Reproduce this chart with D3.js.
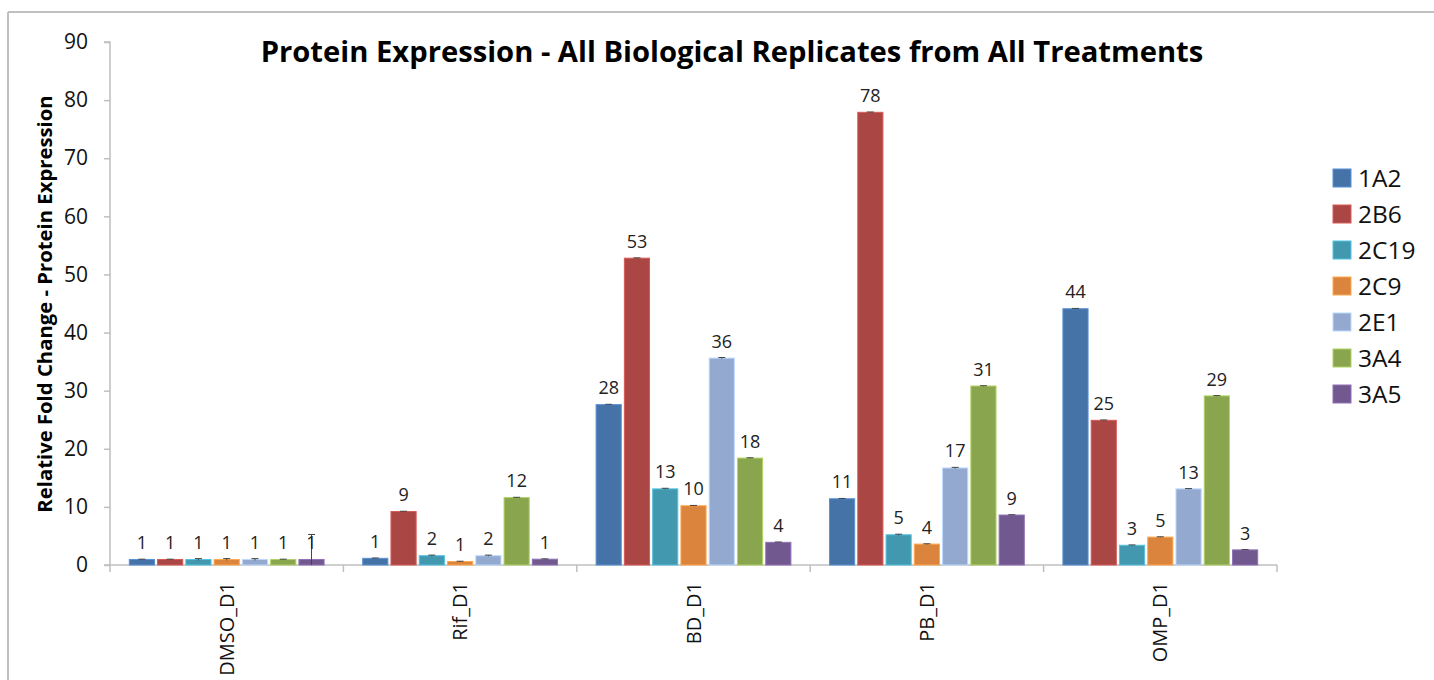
<!DOCTYPE html>
<html><head><meta charset="utf-8">
<script src="https://cdn.jsdelivr.net/npm/d3@7"></script>
<style>
html,body{margin:0;padding:0;background:#fff;}
svg{display:block;font-family:"Open Sans",sans-serif;}
</style></head>
<body><svg id="c" width="1434" height="680"></svg>
<script>
const categories = ["DMSO_D1","Rif_D1","BD_D1","PB_D1","OMP_D1"];
const seriesNames = ["1A2","2B6","2C19","2C9","2E1","3A4","3A5"];
const seriesColors = ["#4572A7","#AA4643","#4198AF","#DB843D","#93A9CF","#89A54E","#71588F"];
// values per series, in category order
const v1A2  = [0.95, 1.15, 27.6, 11.4, 44.1];
const v2B6  = [0.95, 9.2, 52.8, 77.9, 24.9];
const v2C19 = [0.95, 1.6, 13.1, 5.2, 3.4];
const v2C9  = [0.95, 0.6, 10.2, 3.6, 4.8];
const v2E1  = [0.95, 1.6, 35.6, 16.7, 13.1];
const v3A4  = [0.95, 11.6, 18.4, 30.8, 29.1];
const v3A5  = [0.95, 1.0, 3.9, 8.6, 2.6];
// error bar half-widths
const e1A2  = [0.05, 0.05, 0.05, 0.05, 0.05];
const e2B6  = [0.05, 0.05, 0.05, 0.05, 0.05];
const e2C19 = [0.15, 0.1, 0.1, 0.1, 0.05];
const e2C9  = [0.15, 0.05, 0.05, 0.05, 0.05];
const e2E1  = [0.15, 0.1, 0.1, 0.1, 0.05];
const e3A4  = [0.05, 0.05, 0.05, 0.05, 0.05];
const e3A5  = [4.3, 0.05, 0.05, 0.05, 0.05];
const yTicks = [0,10,20,30,40,50,60,70,80,90];
const titleText = "Protein Expression - All Biological Replicates from All Treatments";
const yLabel = "Relative Fold Change - Protein Expression";

const values = [v1A2,v2B6,v2C19,v2C9,v2E1,v3A4,v3A5];
const errors = [e1A2,e2B6,e2C19,e2C9,e2E1,e3A4,e3A5];

const svg = d3.select("#c");
const axisColor = "#bfbfbf";

// frame
svg.append("line").attr("x1",8).attr("x2",1434).attr("y1",12).attr("y2",12).attr("stroke","#c0c0c0").attr("stroke-width",2);
svg.append("line").attr("x1",8).attr("x2",8).attr("y1",12).attr("y2",680).attr("stroke","#c0c0c0").attr("stroke-width",2);

const y = d3.scaleLinear().domain([0,90]).range([565,42]);
const x = d3.scaleBand().domain(categories).range([110,1277]).paddingInner(0).paddingOuter(0);
const xi = d3.scaleBand().domain(seriesNames).range([19.3, x.bandwidth()-19.3]).paddingInner(0.11).paddingOuter(0);
const color = d3.scaleOrdinal().domain(seriesNames).range(seriesColors);

// title
svg.append("text").attr("x",732).attr("y",62).attr("text-anchor","middle")
  .attr("font-size",29.2).attr("font-weight","bold").attr("fill","#000").text(titleText);

// y axis
const yAxis = d3.axisLeft(y).tickValues(yTicks).tickSize(6).tickPadding(16).tickFormat(d3.format("d"));
const gy = svg.append("g").attr("transform","translate(110,0)").call(yAxis);
gy.select(".domain").attr("stroke",axisColor).attr("stroke-width",1.5).attr("d","M-6,"+y(90)+"H0V"+y(0)+"H-6");
gy.selectAll(".tick line").attr("stroke",axisColor).attr("stroke-width",1.5);
gy.selectAll(".tick text").attr("font-size",21).attr("fill","#111").attr("font-family","Open Sans, sans-serif");

// x axis
const xAxis = d3.axisBottom(x).tickSize(0).tickPadding(0);
const gx = svg.append("g").attr("transform","translate(0,"+y(0)+")").call(xAxis);
gx.select(".domain").attr("stroke",axisColor).attr("stroke-width",1.5).attr("d","M110,0H1277");
gx.selectAll(".tick text")
  .attr("font-size",20).attr("fill","#111").attr("font-family","Open Sans, sans-serif")
  .attr("transform","rotate(-90)").attr("text-anchor","end").attr("dx",-17).attr("dy","0.35em").attr("x",0).attr("y",0);
// category separators
const bounds = categories.map(c=>x(c)).concat([x(categories[categories.length-1])+x.bandwidth()]);
gx.selectAll("line.sep").data(bounds).enter().append("line").attr("class","sep")
  .attr("x1",d=>d).attr("x2",d=>d).attr("y1",0).attr("y2",7).attr("stroke",axisColor).attr("stroke-width",1.5);

// y axis label
svg.append("text").attr("transform","translate(52,304) rotate(-90)").attr("text-anchor","middle")
  .attr("font-size",20.3).attr("font-weight","bold").attr("fill","#000").text(yLabel);

// bars
const data = [];
categories.forEach((c,ci)=>seriesNames.forEach((s,si)=>data.push({c,s,v:values[si][ci],e:errors[si][ci]})));

const g = svg.append("g");
const bar = g.selectAll("g.bar").data(data).enter().append("g").attr("class","bar")
  .attr("transform",d=>"translate("+(x(d.c)+xi(d.s))+",0)");
bar.append("rect").attr("x",0).attr("width",xi.bandwidth())
  .attr("y",d=>y(d.v)).attr("height",d=>y(0)-y(d.v))
  .attr("fill",d=>color(d.s)).attr("stroke",d=>d3.color(color(d.s)).brighter(0.7)).attr("stroke-width",1);
// error bars
bar.append("line").attr("x1",xi.bandwidth()/2).attr("x2",xi.bandwidth()/2)
  .attr("y1",d=>y(d.v+d.e)).attr("y2",d=>y(Math.max(0,d.v-d.e)))
  .attr("stroke","#444").attr("stroke-width",1);
bar.append("line").attr("x1",xi.bandwidth()/2-3.5).attr("x2",xi.bandwidth()/2+3.5)
  .attr("y1",d=>y(d.v+d.e)).attr("y2",d=>y(d.v+d.e))
  .attr("stroke","#444").attr("stroke-width",1);
// labels
bar.append("text").attr("x",xi.bandwidth()/2).attr("y",d=>y(d.v + (d.e>1?0:d.e)) - 10)
  .attr("text-anchor","middle").attr("font-size",18).attr("fill","#222")
  .text(d=>Math.round(d.v));

// legend
const lg = svg.append("g").attr("transform","translate(1333,169)");
const li = lg.selectAll("g").data(seriesNames).enter().append("g").attr("transform",(d,i)=>"translate(0,"+(i*36)+")");
li.append("rect").attr("width",18).attr("height",18).attr("fill",d=>color(d)).attr("stroke",d=>d3.color(color(d)).brighter(0.7));
li.append("text").attr("x",25).attr("y",9).attr("dy","0.36em").attr("font-size",24.5).attr("fill","#111").text(d=>d);
</script></body></html>
